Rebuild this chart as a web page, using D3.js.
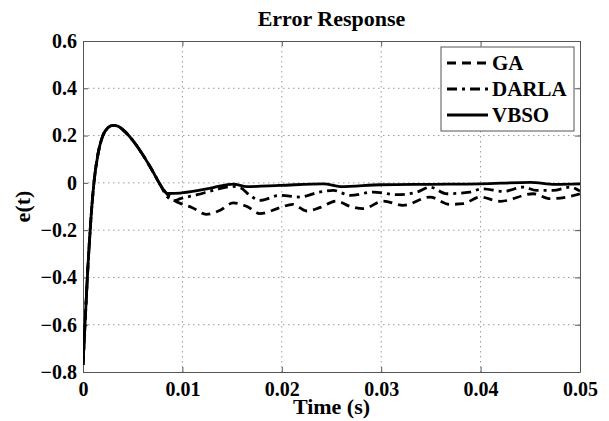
<!DOCTYPE html>
<html>
<head>
<meta charset="utf-8">
<script src="https://cdn.jsdelivr.net/npm/d3@7"></script>
<style>
  body { margin: 0; background: #fff; }
  text { font-family: "Liberation Serif", "Times New Roman", serif; font-weight: bold; }
</style>
</head>
<body>
<div class="canva"></div>
<script>
// common transient (all three controllers overlap here)
const tStart = [0, 0.0002, 0.0005, 0.0008, 0.0011, 0.0015, 0.002, 0.0025, 0.003, 0.0035, 0.004, 0.005, 0.006, 0.007, 0.0078]
const eStart = [-0.77, -0.6, -0.35, -0.15, 0.0, 0.12, 0.2, 0.233, 0.243, 0.24, 0.225, 0.18, 0.12, 0.05, -0.01]

// tails after the transient
const tGA = [0.0085, 0.0092, 0.0100, 0.0110, 0.0124, 0.0138, 0.0151, 0.0165, 0.0178, 0.0198, 0.0211, 0.0225, 0.0238, 0.0255,
  0.0269, 0.0282, 0.0302, 0.0322, 0.0349, 0.0369, 0.0383, 0.0399, 0.0420, 0.0453, 0.0470, 0.0490, 0.0500]
const eGA = [-0.05, -0.075, -0.09, -0.105, -0.133, -0.116, -0.085, -0.1, -0.13, -0.105, -0.091, -0.119, -0.105, -0.077,
  -0.1, -0.109, -0.077, -0.095, -0.06, -0.091, -0.088, -0.06, -0.078, -0.046, -0.067, -0.057, -0.046]

const tDARLA = [0.0085, 0.0092, 0.0098, 0.0115, 0.0131, 0.0150, 0.0158, 0.0168, 0.0178, 0.0198, 0.0218, 0.0238, 0.0252,
  0.0269, 0.0292, 0.0316, 0.0336, 0.0349, 0.0366, 0.0389, 0.0402, 0.0423, 0.0443, 0.0456, 0.0473, 0.0490, 0.0500]
const eDARLA = [-0.06, -0.075, -0.067, -0.05, -0.032, -0.015, -0.02, -0.053, -0.074, -0.053, -0.06, -0.039, -0.032,
  -0.053, -0.039, -0.05, -0.039, -0.018, -0.046, -0.039, -0.025, -0.036, -0.018, -0.032, -0.032, -0.018, -0.035]

const tVBSO = [0.0085, 0.0098, 0.0115, 0.0131, 0.0151, 0.0165, 0.0198, 0.0242, 0.0259, 0.0300, 0.0350, 0.0400, 0.0450, 0.0475, 0.0500]
const eVBSO = [-0.045, -0.043, -0.033, -0.02, -0.005, -0.016, -0.011, -0.004, -0.016, -0.008, -0.006, -0.004, 0.002, -0.006, -0.004]

const seriesNames = ['GA', 'DARLA', 'VBSO']
const xTicks = [0, 0.01, 0.02, 0.03, 0.04, 0.05]
const yTicks = [0.6, 0.4, 0.2, 0, -0.2, -0.4, -0.6, -0.8]

const W = 609, H = 421
const mLeft = 83, mRight = 580, mTop = 41, mBottom = 372

const svg = d3.select('.canva').append('svg')
  .attr('width', W)
  .attr('height', H)

const x = d3.scaleLinear().domain([0, 0.05]).range([mLeft, mRight])
const y = d3.scaleLinear().domain([-0.8, 0.6]).range([mBottom, mTop])

// grid
svg.append('g').selectAll('line').data(xTicks.slice(1, -1)).enter().append('line')
  .attr('x1', d => x(d)).attr('x2', d => x(d))
  .attr('y1', mTop).attr('y2', mBottom)
  .attr('stroke', '#999').attr('stroke-width', 1).attr('stroke-dasharray', '1.5,3.5')
svg.append('g').selectAll('line').data(yTicks.slice(1, -1)).enter().append('line')
  .attr('y1', d => y(d)).attr('y2', d => y(d))
  .attr('x1', mLeft).attr('x2', mRight)
  .attr('stroke', '#999').attr('stroke-width', 1).attr('stroke-dasharray', '1.5,3.5')

// axes (inward ticks, MATLAB style)
const fmtY = d => d === 0 ? '0' : d3.format('.1f')(d)
const fmtX = d => d === 0 ? '0' : d3.format('.2f')(d)

const axB = svg.append('g').attr('transform', `translate(0,${mBottom})`)
  .call(d3.axisBottom(x).tickValues(xTicks).tickFormat(fmtX).tickSizeInner(-5).tickSizeOuter(0).tickPadding(10))
const axT = svg.append('g').attr('transform', `translate(0,${mTop})`)
  .call(d3.axisTop(x).tickValues(xTicks).tickFormat('').tickSizeInner(-5).tickSizeOuter(0))
const axL = svg.append('g').attr('transform', `translate(${mLeft},0)`)
  .call(d3.axisLeft(y).tickValues(yTicks).tickFormat(fmtY).tickSizeInner(-5).tickSizeOuter(0).tickPadding(6))
const axR = svg.append('g').attr('transform', `translate(${mRight},0)`)
  .call(d3.axisRight(y).tickValues(yTicks).tickFormat('').tickSizeInner(-5).tickSizeOuter(0))

;[axB, axT, axL, axR].forEach(a => {
  a.select('.domain').attr('stroke', '#555')
  a.selectAll('.tick line').attr('stroke', '#555')
  a.selectAll('text').attr('fill', '#000').attr('font-size', 20)
    .style('font-family', '"Liberation Serif", "Times New Roman", serif').style('font-weight', 'bold')
})

// lines
const line = d3.line().x(d => x(d[0])).y(d => y(d[1])).curve(d3.curveMonotoneX)
const build = (ts, es) => d3.zip(tStart.concat(ts), eStart.concat(es))
const dataGA = build(tGA, eGA)
const dataDARLA = build(tDARLA, eDARLA)
const dataVBSO = build(tVBSO, eVBSO)

const dashes = { GA: '9,6', DARLA: '10,5,3,5', VBSO: null }
const plotData = { GA: dataGA, DARLA: dataDARLA, VBSO: dataVBSO }

svg.append('defs').append('clipPath').attr('id', 'clip')
  .append('rect').attr('x', mLeft).attr('y', mTop).attr('width', mRight - mLeft).attr('height', mBottom - mTop)

seriesNames.forEach(name => {
  svg.append('path')
    .datum(plotData[name])
    .attr('clip-path', 'url(#clip)')
    .attr('fill', 'none')
    .attr('stroke', '#000')
    .attr('stroke-width', 2.8)
    .attr('stroke-linejoin', 'round')
    .attr('stroke-dasharray', dashes[name])
    .attr('d', line)
})

// legend
const lg = svg.append('g')
lg.append('rect')
  .attr('x', 441).attr('y', 47).attr('width', 133).attr('height', 84)
  .attr('fill', '#fff').attr('stroke', '#555').attr('stroke-width', 1)
seriesNames.forEach((name, i) => {
  const yy = 63 + i * 26
  lg.append('line')
    .attr('x1', 447).attr('x2', 488).attr('y1', yy).attr('y2', yy)
    .attr('stroke', '#000').attr('stroke-width', 2.8)
    .attr('stroke-dasharray', dashes[name])
  lg.append('text')
    .text(name)
    .attr('x', 492).attr('y', yy + 7)
    .attr('font-size', 21)
})

// titles
svg.append('text')
  .text('Error Response')
  .attr('text-anchor', 'middle')
  .attr('x', (mLeft + mRight) / 2).attr('y', 26)
  .attr('font-size', 22)

svg.append('text')
  .text('Time (s)')
  .attr('text-anchor', 'middle')
  .attr('x', (mLeft + mRight) / 2).attr('y', 414)
  .attr('font-size', 22)

svg.append('text')
  .text('e(t)')
  .attr('text-anchor', 'middle')
  .attr('transform', `translate(30,${(mTop + mBottom) / 2}) rotate(-90)`)
  .attr('font-size', 22)
</script>
</body>
</html>
